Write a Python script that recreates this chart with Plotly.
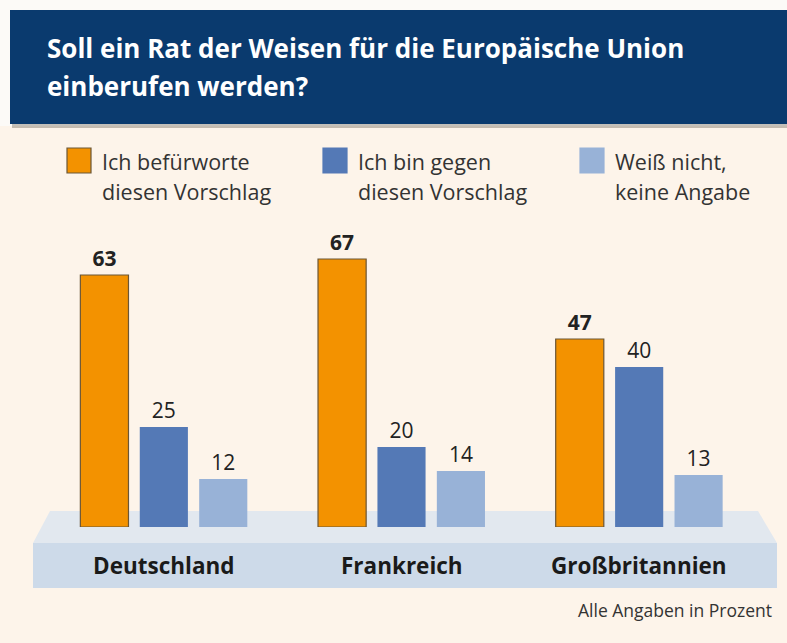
import plotly.graph_objects as go

# ---- data ----
countries = ["Deutschland", "Frankreich", "Großbritannien"]
series_names = ["Ich befürworte<br>diesen Vorschlag",
                "Ich bin gegen<br>diesen Vorschlag",
                "Weiß nicht,<br>keine Angabe"]
dafuer = [63, 67, 47]
dagegen = [25, 20, 40]
weiss_nicht = [12, 14, 13]
title_lines = ["Soll ein Rat der Weisen für die Europäische Union", "einberufen werden?"]
footnote = "Alle Angaben in Prozent"

# ---- styling / layout ----
W, H = 787, 643
L, R, T, B = 45, 29, 247, 116
PW, PH = W - L - R, H - T - B
BG = "#FDF4EA"
colors = ["#F39200", "#5479B6", "#98B2D7"]
FONT = "Open Sans"


def px(x):
    return (x - L) / PW


def py(y):
    return (H - B - y) / PH


fig = go.Figure()
values = [dafuer, dagegen, weiss_nicht]
for i, (vals, col) in enumerate(zip(values, colors)):
    tmpl = "<b>%{y}</b>" if i == 0 else "%{y}"
    fig.add_trace(go.Bar(
        x=countries, y=vals, name=series_names[i],
        marker=dict(color=col,
                    line=dict(color="#6B5636" if i == 0 else col, width=1.2 if i == 0 else 0)),
        texttemplate=tmpl, textposition="outside",
        textfont=dict(family=FONT, size=21, color="#222222"),
        cliponaxis=False, showlegend=False, hoverinfo="skip",
    ))

shapes = []
# whitish area behind/around header
shapes.append(dict(type="rect", xref="paper", yref="paper",
                   x0=px(0), x1=px(790), y0=py(126), y1=py(0),
                   fillcolor="#FCFAF7", line=dict(width=0), layer="below"))
# header shadow + header
shapes.append(dict(type="rect", xref="paper", yref="paper",
                   x0=px(12), x1=px(790), y0=py(128), y1=py(14),
                   fillcolor="rgba(90,80,70,0.35)", line=dict(width=0), layer="below"))
shapes.append(dict(type="rect", xref="paper", yref="paper",
                   x0=px(10), x1=px(790), y0=py(124), y1=py(10),
                   fillcolor="#0A3A6E", line=dict(width=0), layer="below"))
# platform: top surface (trapezoid) and front face
top_path = "M {a},{b} L {c},{b} L {d},{e} L {f},{e} Z".format(
    a=px(50), b=py(511), c=px(758), d=px(777), e=py(543), f=px(33))
shapes.append(dict(type="path", xref="paper", yref="paper", path=top_path,
                   fillcolor="#E2E8EF", line=dict(width=0), layer="below"))
shapes.append(dict(type="rect", xref="paper", yref="paper",
                   x0=px(33), x1=px(777), y0=py(588), y1=py(543),
                   fillcolor="#CDDAE9", line=dict(width=0), layer="below"))

annotations = []
# title
for k, line in enumerate(title_lines):
    annotations.append(dict(text="<b>" + line + "</b>", xref="paper", yref="paper",
                            x=px(45), y=py(48 + 38 * k), xanchor="left", yanchor="middle",
                            showarrow=False,
                            font=dict(family=FONT, size=26, color="white")))
# legend
leg_x = [67, 323, 580]
for name, col, lx in zip(series_names, colors, leg_x):
    shapes.append(dict(type="rect", xref="paper", yref="paper",
                       x0=px(lx), x1=px(lx + 24), y0=py(173), y1=py(148),
                       fillcolor=col,
                       line=dict(color="#6B5636" if col == colors[0] else col, width=1.2)))
    for k, part in enumerate(name.split("<br>")):
        annotations.append(dict(text=part, xref="paper", yref="paper",
                                x=px(lx + 33), y=py(161 + 30 * k), xanchor="left",
                                yanchor="middle", align="left", showarrow=False,
                                font=dict(family=FONT, size=21.5, color="#333333")))
# category labels
for c in countries:
    annotations.append(dict(text="<b>" + c + "</b>", x=c, xref="x", yref="paper",
                            y=py(565), yanchor="middle", showarrow=False,
                            font=dict(family=FONT, size=22.5, color="#1A1A1A")))
# footnote
annotations.append(dict(text=footnote, xref="paper", yref="paper",
                        x=px(774), y=py(610), xanchor="right", yanchor="middle",
                        showarrow=False,
                        font=dict(family=FONT, size=17.5, color="#333333")))

fig.update_layout(
    width=W, height=H,
    margin=dict(l=L, r=R, t=T, b=B, autoexpand=False),
    paper_bgcolor=BG, plot_bgcolor="rgba(0,0,0,0)",
    barmode="group", bargap=0.25, bargroupgap=0.19,
    xaxis=dict(range=[-0.5, 2.5], showticklabels=False, showgrid=False,
               zeroline=False, showline=False, ticks="", fixedrange=True),
    yaxis=dict(range=[0, 70], visible=False, fixedrange=True),
    shapes=shapes, annotations=annotations,
    showlegend=False,
)

fig.write_html("out.html",
               config={"displayModeBar": False},
               post_script="document.body.style.margin='0';"
                           "document.body.style.background='" + BG + "';")
